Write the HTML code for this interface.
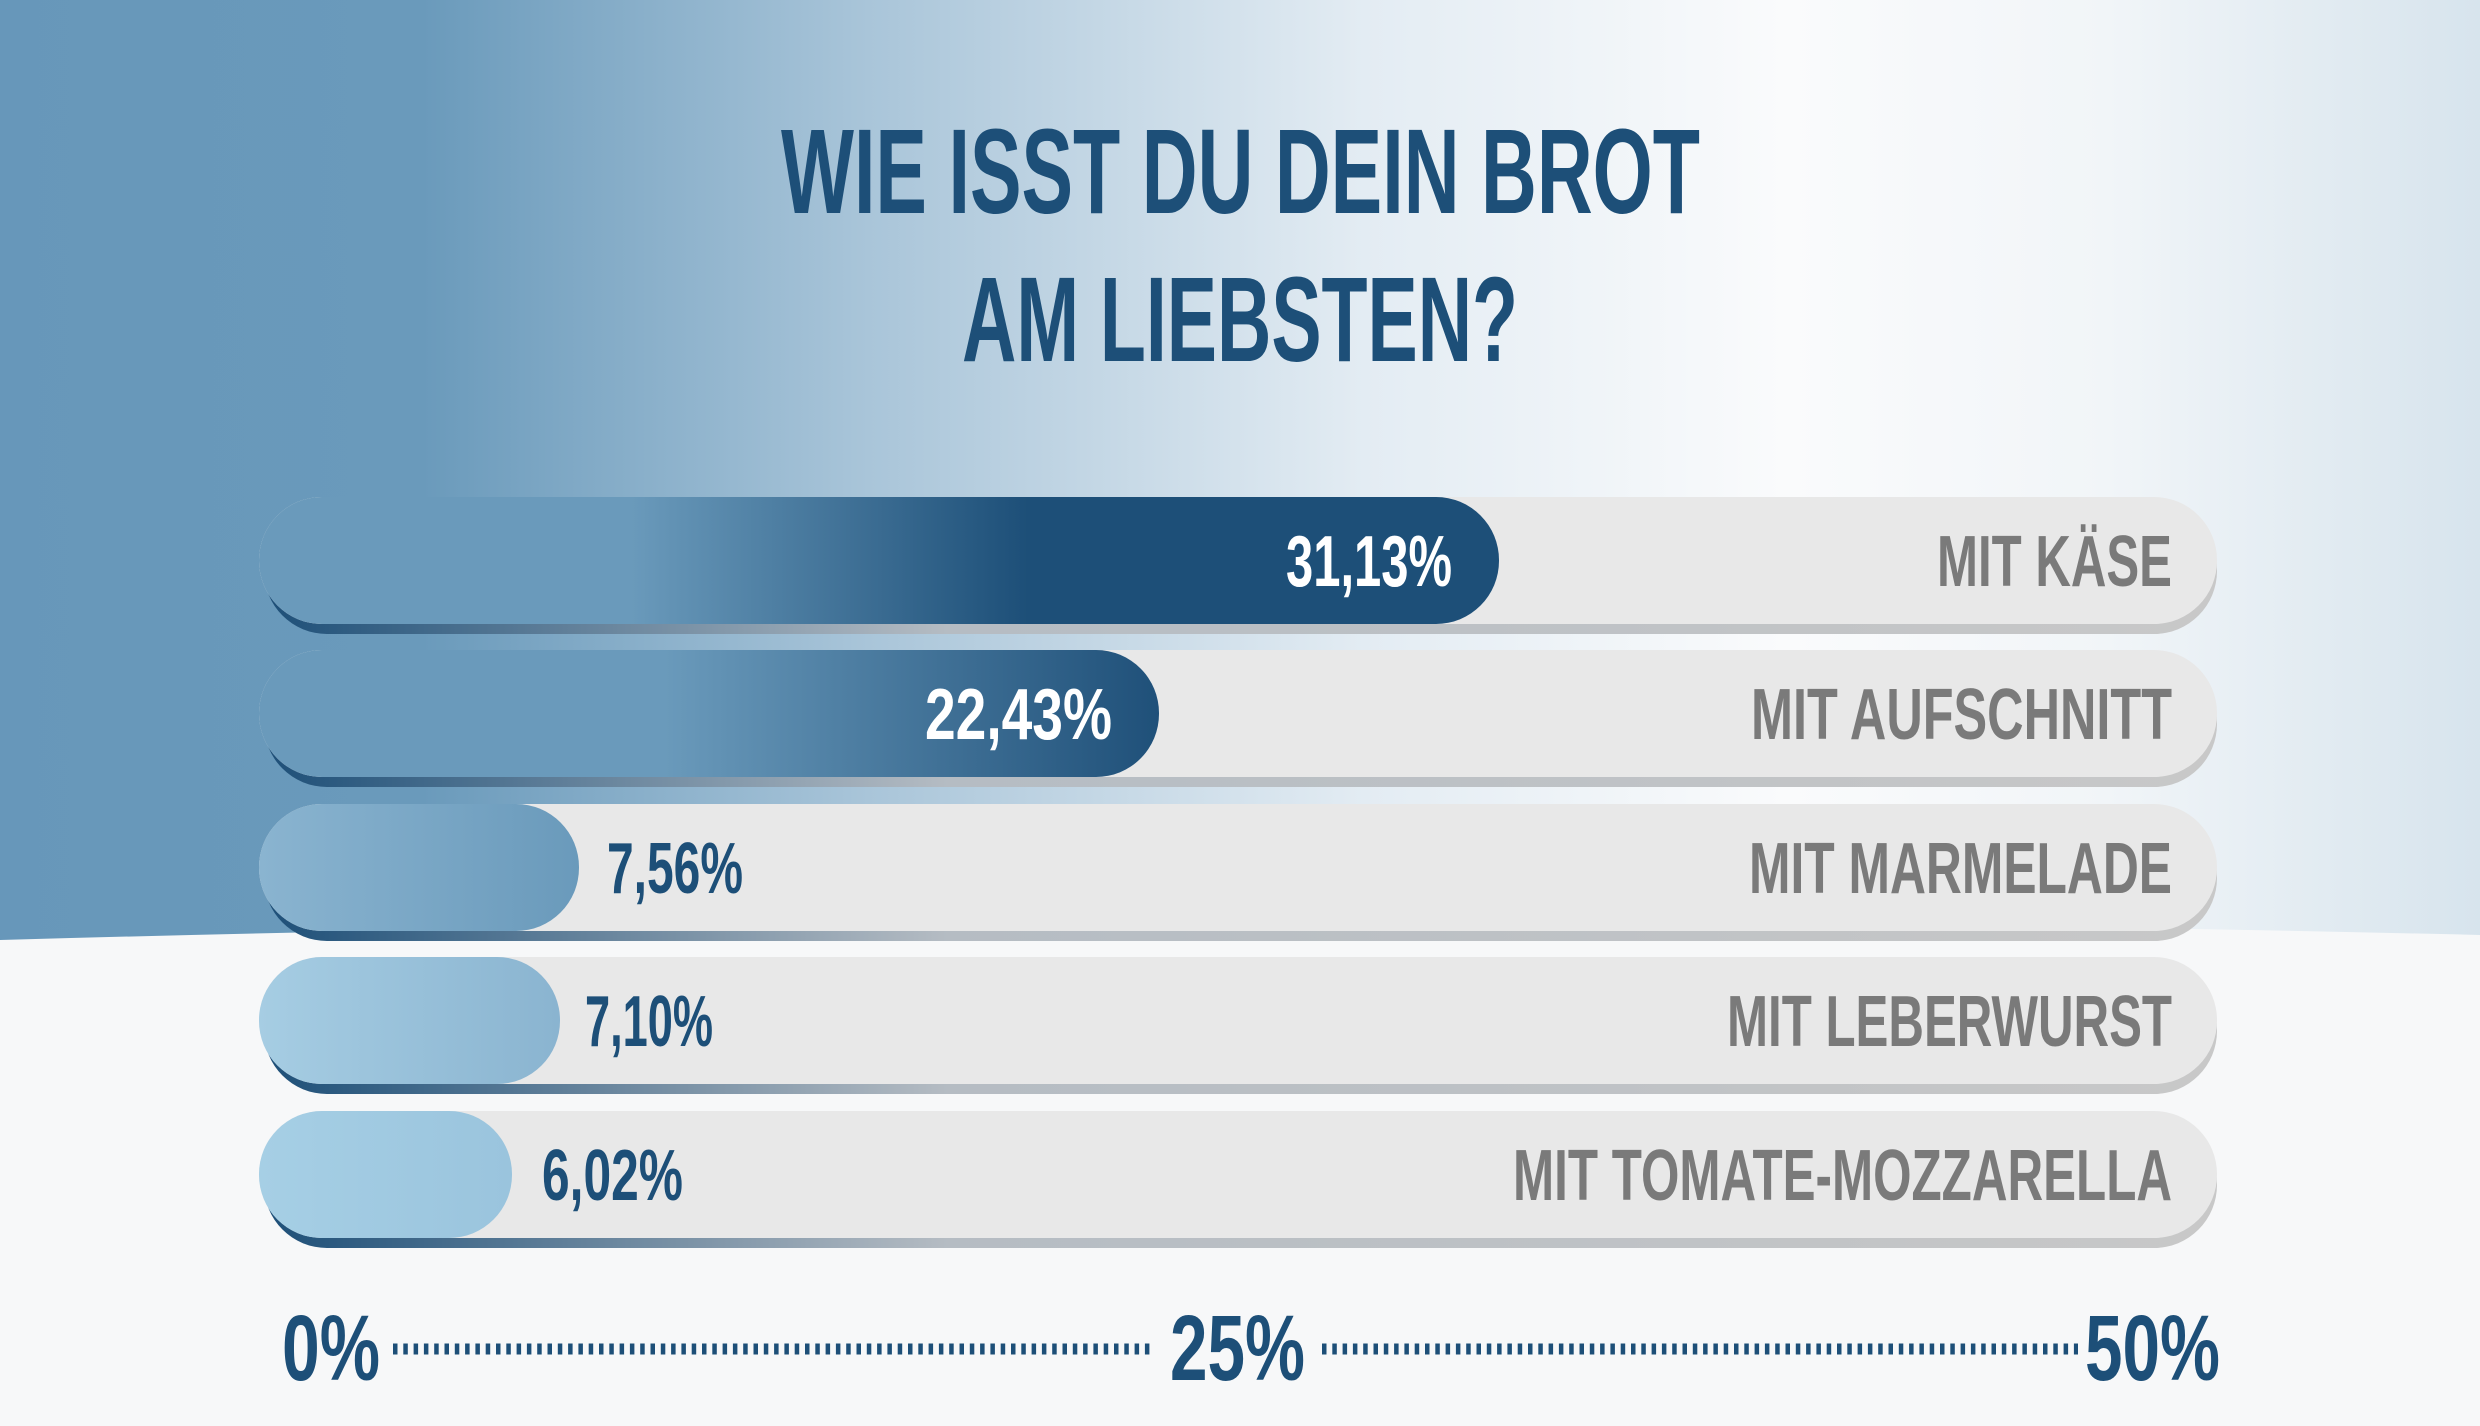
<!DOCTYPE html>
<html><head><meta charset="utf-8"><style>
html,body{margin:0;padding:0;width:2480px;height:1426px;overflow:hidden;background:#f7f8f9}
svg{display:block}
text{font-family:"Liberation Sans",sans-serif;font-weight:bold}
</style></head><body>
<svg width="2480" height="1426" viewBox="0 0 2480 1426" xmlns="http://www.w3.org/2000/svg">
<defs>
<linearGradient id="bg" x1="0" x2="1" y1="0" y2="0">
<stop offset="0" stop-color="#6797ba"/><stop offset="0.17" stop-color="#6a9abb"/>
<stop offset="0.35" stop-color="#a9c5d9"/><stop offset="0.55" stop-color="#e3ecf3"/>
<stop offset="0.72" stop-color="#fafbfc"/><stop offset="0.85" stop-color="#f1f5f8"/><stop offset="1" stop-color="#d7e4ed"/></linearGradient>
<linearGradient id="sh" x1="0" x2="1"><stop offset="0" stop-color="#1d4f78"/><stop offset="0.35" stop-color="#b5bcc3"/><stop offset="1" stop-color="#c8c8c8"/></linearGradient>
<linearGradient id="f1" gradientUnits="userSpaceOnUse" x1="259" x2="1499"><stop offset="0" stop-color="#6a9abb"/><stop offset="0.3" stop-color="#6a9abb"/><stop offset="0.62" stop-color="#1d4f78"/><stop offset="1" stop-color="#1d4f78"/></linearGradient>
<linearGradient id="f2" gradientUnits="userSpaceOnUse" x1="259" x2="1159"><stop offset="0" stop-color="#6a9abb"/><stop offset="0.45" stop-color="#6a9abb"/><stop offset="1" stop-color="#1f5079"/></linearGradient>
<linearGradient id="f3" gradientUnits="userSpaceOnUse" x1="259" x2="579"><stop offset="0" stop-color="#8ab4d0"/><stop offset="1" stop-color="#6a9abb"/></linearGradient>
<linearGradient id="f4" gradientUnits="userSpaceOnUse" x1="259" x2="560"><stop offset="0" stop-color="#a6cde3"/><stop offset="1" stop-color="#8ab4d0"/></linearGradient>
<linearGradient id="f5" gradientUnits="userSpaceOnUse" x1="259" x2="512"><stop offset="0" stop-color="#a6cfe5"/><stop offset="1" stop-color="#9ac4dd"/></linearGradient>
</defs>
<rect width="2480" height="1426" fill="url(#bg)"/>
<path d="M0 940 Q1240 905 2480 935 L2480 1426 L0 1426 Z" fill="#f7f8f9"/>
<text x="781" y="213" font-size="121" fill="#1d4f78" textLength="919" lengthAdjust="spacingAndGlyphs">WIE ISST DU DEIN BROT</text>
<text x="962" y="361" font-size="121" fill="#1d4f78" textLength="556" lengthAdjust="spacingAndGlyphs">AM LIEBSTEN?</text>
<g>
<rect x="264" y="507" width="1953" height="127" rx="63" fill="url(#sh)"/>
<rect x="259" y="497" width="1958" height="127" rx="63" fill="#e8e8e8"/>
<rect x="259" y="497" width="1240" height="127" rx="63" fill="url(#f1)"/>
<text x="1286" y="586" font-size="72" fill="#fff" textLength="166" lengthAdjust="spacingAndGlyphs">31,13%</text>
<text x="1937" y="586" font-size="72" fill="#7a7a7a" textLength="235" lengthAdjust="spacingAndGlyphs">MIT KÄSE</text>

<rect x="264" y="660" width="1953" height="127" rx="63" fill="url(#sh)"/>
<rect x="259" y="650" width="1958" height="127" rx="63" fill="#e8e8e8"/>
<rect x="259" y="650" width="900" height="127" rx="63" fill="url(#f2)"/>
<text x="925" y="739" font-size="72" fill="#fff" textLength="187" lengthAdjust="spacingAndGlyphs">22,43%</text>
<text x="1751" y="739" font-size="72" fill="#7a7a7a" textLength="421" lengthAdjust="spacingAndGlyphs">MIT AUFSCHNITT</text>

<rect x="264" y="814" width="1953" height="127" rx="63" fill="url(#sh)"/>
<rect x="259" y="804" width="1958" height="127" rx="63" fill="#e8e8e8"/>
<rect x="259" y="804" width="320" height="127" rx="63" fill="url(#f3)"/>
<text x="607" y="893" font-size="72" fill="#1d4f78" textLength="136" lengthAdjust="spacingAndGlyphs">7,56%</text>
<text x="1749" y="893" font-size="72" fill="#7a7a7a" textLength="423" lengthAdjust="spacingAndGlyphs">MIT MARMELADE</text>

<rect x="264" y="967" width="1953" height="127" rx="63" fill="url(#sh)"/>
<rect x="259" y="957" width="1958" height="127" rx="63" fill="#e8e8e8"/>
<rect x="259" y="957" width="301" height="127" rx="63" fill="url(#f4)"/>
<text x="585" y="1046" font-size="72" fill="#1d4f78" textLength="128" lengthAdjust="spacingAndGlyphs">7,10%</text>
<text x="1727" y="1046" font-size="72" fill="#7a7a7a" textLength="445" lengthAdjust="spacingAndGlyphs">MIT LEBERWURST</text>

<rect x="264" y="1121" width="1953" height="127" rx="63" fill="url(#sh)"/>
<rect x="259" y="1111" width="1958" height="127" rx="63" fill="#e8e8e8"/>
<rect x="259" y="1111" width="253" height="127" rx="63" fill="url(#f5)"/>
<text x="542" y="1200" font-size="72" fill="#1d4f78" textLength="141" lengthAdjust="spacingAndGlyphs">6,02%</text>
<text x="1513" y="1200" font-size="72" fill="#7a7a7a" textLength="659" lengthAdjust="spacingAndGlyphs">MIT TOMATE-MOZZARELLA</text>
</g>
<text x="282" y="1380" font-size="93" fill="#1d4f78" textLength="98" lengthAdjust="spacingAndGlyphs">0%</text>
<text x="1170" y="1380" font-size="93" fill="#1d4f78" textLength="135" lengthAdjust="spacingAndGlyphs">25%</text>
<text x="2085" y="1380" font-size="93" fill="#1d4f78" textLength="135" lengthAdjust="spacingAndGlyphs">50%</text>
<line x1="393" y1="1349" x2="1155" y2="1349" stroke="#1d4f78" stroke-width="11" stroke-dasharray="4.5 5.8"/>
<line x1="1322" y1="1349" x2="2078" y2="1349" stroke="#1d4f78" stroke-width="11" stroke-dasharray="4.5 5.8"/>
</svg>
</body></html>
